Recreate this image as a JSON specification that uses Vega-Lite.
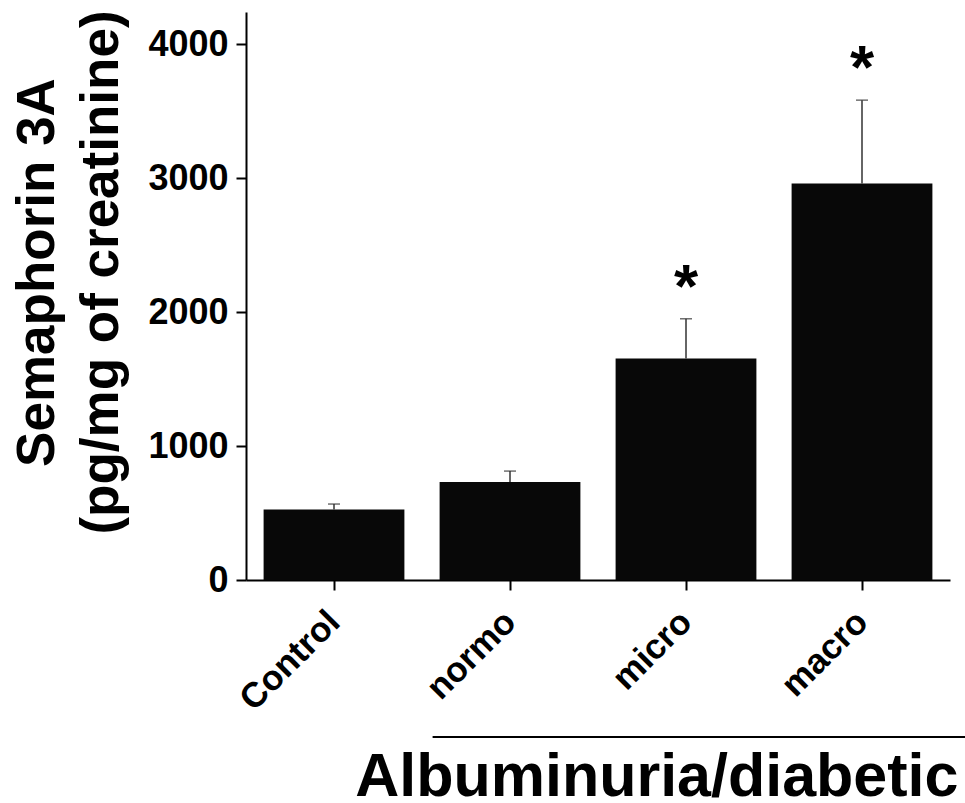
{
  "$schema": "https://vega.github.io/schema/vega-lite/v6.json",
  "autosize": "none",
  "padding": {"left": 246, "top": 12, "right": 15, "bottom": 223},
  "width": 704,
  "height": 568,
  "background": "white",
  "config": {
    "view": {"stroke": null},
    "font": "Liberation Sans"
  },
  "datasets": {
    "bars": [
      {"group": "Control", "value": 527, "upper": 567, "star": ""},
      {"group": "normo", "value": 731, "upper": 813, "star": ""},
      {"group": "micro", "value": 1654, "upper": 1950, "star": "*"},
      {"group": "macro", "value": 2960, "upper": 3582, "star": "*"}
    ],
    "bracket": [
      {"from": "normo", "to": "macro", "level": -1172}
    ]
  },
  "layer": [
    {
      "data": {"name": "bars"},
      "mark": {"type": "bar", "color": "#080808"},
      "encoding": {
        "x": {
          "field": "group",
          "type": "nominal",
          "scale": {"domain": ["Control", "normo", "micro", "macro"], "paddingInner": 0.2, "paddingOuter": 0.1},
          "axis": {
            "title": "Albuminuria/diabetic",
            "titleFont": "Liberation Sans",
            "titleFontSize": 61,
            "titleFontWeight": "bold",
            "titleColor": "black",
            "titleAnchor": "end",
            "titleAlign": "right",
            "titleBaseline": "alphabetic",
            "titleX": 712,
            "titleY": 215,
            "labelAngle": -45,
            "labelAlign": "right",
            "labelBaseline": "middle",
            "labelFont": "Liberation Sans",
            "labelFontSize": 35,
            "labelFontWeight": "bold",
            "labelColor": "black",
            "labelPadding": 26,
            "domainColor": "black",
            "domainWidth": 2,
            "tickColor": "black",
            "tickWidth": 2,
            "tickSize": 10,
            "grid": false
          }
        },
        "y": {
          "field": "value",
          "type": "quantitative",
          "scale": {"domain": [0, 4240], "nice": false},
          "axis": {
            "values": [0, 1000, 2000, 3000, 4000],
            "format": "d",
            "title": ["Semaphorin 3A", "(pg/mg of creatinine)"],
            "titleFont": "Liberation Sans",
            "titleFontSize": 53,
            "titleFontWeight": "bold",
            "titleColor": "black",
            "titleAngle": 270,
            "titleAlign": "center",
            "titleBaseline": "alphabetic",
            "titleLineHeight": 64,
            "titleX": -193,
            "titleY": 260,
            "labelFont": "Liberation Sans",
            "labelFontSize": 36,
            "labelFontWeight": "bold",
            "labelColor": "black",
            "labelPadding": 8,
            "domainColor": "black",
            "domainWidth": 2,
            "tickColor": "black",
            "tickWidth": 2,
            "tickSize": 10,
            "grid": false
          }
        }
      }
    },
    {
      "data": {"name": "bars"},
      "mark": {"type": "rule", "color": "#333333", "strokeWidth": 1.5},
      "encoding": {
        "x": {"field": "group", "type": "nominal"},
        "y": {"field": "value", "type": "quantitative"},
        "y2": {"field": "upper"}
      }
    },
    {
      "data": {"name": "bars"},
      "mark": {"type": "tick", "color": "#333333", "thickness": 1.5, "size": 12, "orient": "horizontal"},
      "encoding": {
        "x": {"field": "group", "type": "nominal"},
        "y": {"field": "upper", "type": "quantitative"}
      }
    },
    {
      "data": {"name": "bars"},
      "mark": {"type": "text", "fontSize": 62, "fontWeight": "bold", "font": "Liberation Sans", "color": "black", "baseline": "alphabetic", "align": "center", "dy": -12},
      "encoding": {
        "x": {"field": "group", "type": "nominal"},
        "y": {"field": "upper", "type": "quantitative"},
        "text": {"field": "star"}
      }
    },
    {
      "data": {"name": "bracket"},
      "mark": {"type": "rule", "color": "black", "strokeWidth": 2, "clip": false, "xOffset": -7, "x2Offset": 103},
      "encoding": {
        "x": {"field": "from", "type": "nominal", "bandPosition": 0},
        "x2": {"field": "to"},
        "y": {"field": "level", "type": "quantitative"}
      }
    }
  ]
}
